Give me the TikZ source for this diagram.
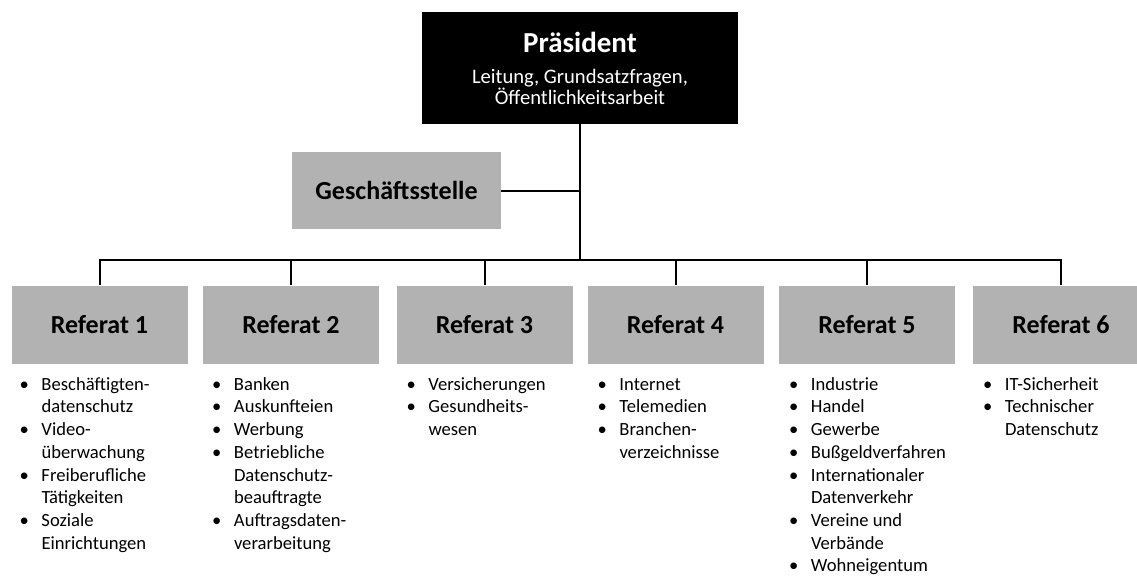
\documentclass[tikz,border=0pt]{standalone}
\usepackage{fontspec}
\setmainfont{Carlito}
\usetikzlibrary{positioning}

\newcommand{\lst}[1]{{\fontsize{9.3}{11.35}\selectfont
  \begin{tabular}{@{}p{11pt}@{}l@{}}#1\end{tabular}}}
\newcommand{\blt}{\textbullet}

\begin{document}
\begin{tikzpicture}[x=0.5pt,y=-0.5pt,
    leitung/.style={fill=black,text=white,minimum width=158pt,minimum height=56pt,
      align=center,inner sep=0pt,font=\fontsize{10.3}{10.5}\selectfont},
    referat/.style={fill=black!30,minimum width=88pt,minimum height=39pt,
      font=\fontsize{13}{15}\selectfont\bfseries,inner sep=0pt},
    liste/.style={anchor=north west,inner sep=0pt},
    linie/.style={line width=1pt}]
    \useasboundingbox (0,0) rectangle (1137,575);

    % Leitung
    \node[leitung] (praes) at (580,68)
      {{\fontsize{14.5}{15}\selectfont\bfseries Präsident}\\[5pt]
       Leitung, Grundsatzfragen,\\ Öffentlichkeitsarbeit};
    \node[referat,minimum width=104.5pt,minimum height=38.5pt] (gs) at (396.5,190.5) {Geschäftsstelle};

    % Referate
    \foreach \i/\x in {1/99.5,2/291,3/484.5,4/675.5,5/867,6/1061}
      \node[referat] (r\i) at (\x,324.5) {Referat \i};

    % Verbindungen
    \coordinate (bus) at (0,260);
    \draw[linie] (praes.south) -- (praes.south |- bus);
    \draw[linie] (gs.east) -- (gs.east -| praes.south);
    \draw[linie] (r1.north) -- (r1.north |- bus) -- (r6.north |- bus) -- (r6.north);
    \foreach \i in {2,...,5}
      \draw[linie] (r\i.north) -- (r\i.north |- bus);

    % Aufgaben
    \node[liste] (l1) at ([xshift=4pt,yshift=-5pt]r1.south west)
      {\lst{\blt & Beschäftigten-\\ & datenschutz\\ \blt & Video-\\ & überwachung\\
        \blt & Freiberufliche\\ & Tätigkeiten\\ \blt & Soziale\\ & Einrichtungen}};
    \node[liste] (l2) at ([xshift=4.5pt,yshift=-5pt]r2.south west)
      {\lst{\blt & Banken\\ \blt & Auskunfteien\\ \blt & Werbung\\ \blt & Betriebliche\\
        & Datenschutz-\\ & beauftragte\\ \blt & Auftragsdaten-\\ & verarbeitung}};
    \node[liste] (l3) at ([xshift=5pt,yshift=-5pt]r3.south west)
      {\lst{\blt & Versicherungen\\ \blt & Gesundheits-\\ & wesen}};
    \node[liste] (l4) at ([xshift=5pt,yshift=-5pt]r4.south west)
      {\lst{\blt & Internet\\ \blt & Telemedien\\ \blt & Branchen-\\ & verzeichnisse}};
    \node[liste] (l5) at ([xshift=5pt,yshift=-5pt]r5.south west)
      {\lst{\blt & Industrie\\ \blt & Handel\\ \blt & Gewerbe\\ \blt & Bußgeldverfahren\\
        \blt & Internationaler\\ & Datenverkehr\\ \blt & Vereine und\\ & Verbände\\
        \blt & Wohneigentum}};
    \node[liste] (l6) at ([xshift=5pt,yshift=-5pt]r6.south west)
      {\lst{\blt & IT-Sicherheit\\ \blt & Technischer\\ & Datenschutz}};
\end{tikzpicture}
\end{document}
